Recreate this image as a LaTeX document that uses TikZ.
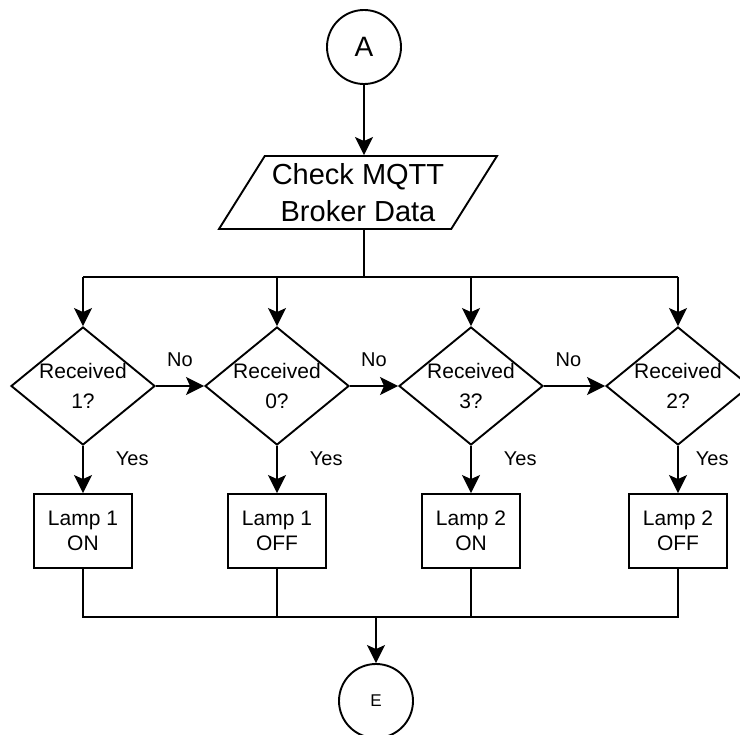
\documentclass[tikz,border=0pt]{standalone}
\usepackage{fontspec}
\setmainfont{Liberation Sans}
\usetikzlibrary{shapes.geometric,arrows.meta,calc}

\begin{document}
\begin{tikzpicture}[x=1pt,y=-1pt, line width=1.9pt,
  conn/.style={-{Stealth[length=18pt,width=18pt,inset=4pt]}},
  terminal/.style={circle,draw,minimum size=74pt,inner sep=0pt},
  decision/.style={diamond,draw,minimum width=144pt,minimum height=118pt,inner sep=0pt},
  dtext/.style={align=center,inner sep=0pt,font=\fontsize{21}{30}\selectfont},
  process/.style={rectangle,draw,minimum width=98pt,minimum height=74pt,inner sep=0pt,
    align=center,font=\fontsize{21}{25}\selectfont},
  io/.style={trapezium,draw,trapezium left angle=54,trapezium right angle=126,
    trapezium stretches=true,minimum width=279pt,minimum height=73pt,inner sep=0pt,
    align=center,font=\fontsize{29}{37}\selectfont},
  lbl/.style={font=\fontsize{20}{24}\selectfont,inner sep=0pt}
]
\useasboundingbox (0,0) rectangle (740,735);

% start / end connectors
\node[terminal,font=\fontsize{28}{30}\selectfont] (A) at (364,47) {A};
\node[terminal,font=\fontsize{17}{20}\selectfont] (E) at (376,701) {E};

% input step
\node[io] (chk) at (358,192.5) {Check MQTT\\Broker Data};

% decisions
\node[decision] (d1) at (83,386) {};
\node[decision] (d2) at (277,386) {};
\node[decision] (d3) at (471,386) {};
\node[decision] (d4) at (678,386) {};
\node[dtext] (d1t) at (d1) {Received\\1?};
\node[dtext] (d2t) at (d2) {Received\\0?};
\node[dtext] (d3t) at (d3) {Received\\3?};
\node[dtext] (d4t) at (d4) {Received\\2?};

% actions
\node[process] (p1) at (83,531) {Lamp 1\\ON};
\node[process] (p2) at (277,531) {Lamp 1\\OFF};
\node[process] (p3) at (471,531) {Lamp 2\\ON};
\node[process] (p4) at (678,531) {Lamp 2\\OFF};

% junction points
\coordinate (bus) at (364,277);
\coordinate (jn) at (376,617);

% flow from A to the decisions
\draw[conn] (A.south) -- (A.south |- chk.north);
\draw (A.south |- chk.south) -- (bus);
\draw (d1 |- bus) -- (d4 |- bus);
\foreach \d in {d1,d2,d3,d4}
  \draw[conn] (\d |- bus) -- (\d.north);

% "No" branches
\draw[conn] (d1.east) -- (d2.west) node[lbl,midway,above=18pt] (n1) {No};
\draw[conn] (d2.east) -- (d3.west) node[lbl,midway,above=18pt] (n2) {No};
\draw[conn] (d3.east) -- (d4.west) node[lbl,midway,above=18pt,xshift=-6pt] (n3) {No};

% "Yes" branches
\draw[conn] (d1.south) -- (p1.north) node[lbl,pos=0.27,right=32pt] (y1) {Yes};
\draw[conn] (d2.south) -- (p2.north) node[lbl,pos=0.27,right=32pt] (y2) {Yes};
\draw[conn] (d3.south) -- (p3.north) node[lbl,pos=0.27,right=32pt] (y3) {Yes};
\draw[conn] (d4.south) -- (p4.north) node[lbl,pos=0.27,right=17pt] (y4) {Yes};

% merge to E
\draw (p1.south) -- (p1.south |- jn) -- (p4.south |- jn) -- (p4.south);
\draw (p2.south) -- (p2.south |- jn);
\draw (p3.south) -- (p3.south |- jn);
\draw[conn] (jn) -- (E.north);
\end{tikzpicture}
\end{document}
